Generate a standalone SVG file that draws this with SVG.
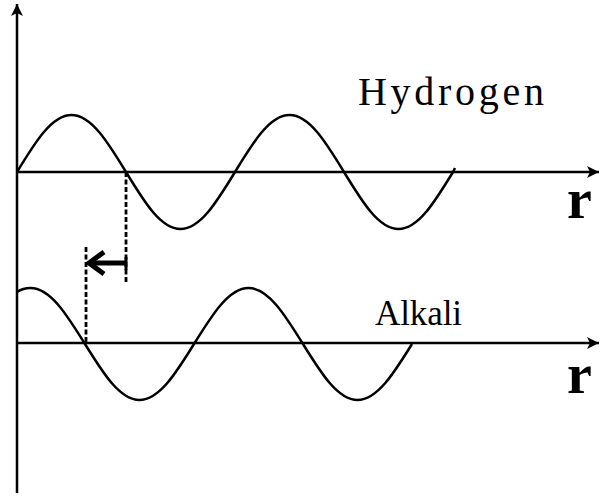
<svg xmlns="http://www.w3.org/2000/svg" width="600" height="497" viewBox="0 0 600 497">
<style>
.axis{stroke:#000;stroke-width:2.5;fill:none}
.wave{stroke:#000;stroke-width:2.5;fill:none;stroke-linejoin:round}
.dash{stroke:#000;stroke-width:2.8;stroke-dasharray:5 2.5;fill:none}
.lbl{font-family:"Liberation Serif","Times New Roman",serif;fill:#000}
</style>
<defs>
<marker id="ah" markerUnits="userSpaceOnUse" markerWidth="14" markerHeight="14" refX="12" refY="7" orient="auto">
<path d="M0,1 L12,7 L0,13 L3,7 Z" fill="#000"/>
</marker>
</defs>
<rect width="600" height="497" fill="#fff"/>
<g id="connectors">
<line class="axis" x1="17" y1="493" x2="17" y2="4" marker-end="url(#ah)"/>
<line class="axis" x1="17" y1="172" x2="599" y2="172" marker-end="url(#ah)"/>
<line class="axis" x1="17" y1="343" x2="599" y2="343" marker-end="url(#ah)"/>
<line class="dash" x1="126" y1="172" x2="126" y2="284"/>
<line class="dash" x1="86" y1="247" x2="86" y2="343"/>
<line x1="126" y1="257" x2="126" y2="270" stroke="#000" stroke-width="3"/>
<line x1="126" y1="263" x2="92" y2="263" stroke="#000" stroke-width="5"/>
<polyline points="104,252 89,263 104,274" fill="none" stroke="#000" stroke-width="5" stroke-linejoin="miter"/>
</g>
<g id="hydrogen-wave">
<path class="wave" d="M17,172 c18.22,-29.93 34.8,-57 54.5,-57 s36.28,27.07 54.5,57 s34.8,57 54.5,57 s36.28,-27.07 54.5,-57 s34.8,-57 54.5,-57 s36.28,27.07 54.5,57 s34.8,57 54.5,57 s36.28,-27.07 54.5,-57 l2,-4"/>
</g>
<g id="alkali-wave">
<path class="wave" d="M17,292 Q23,288 30.5,288 c19.7,0 36.28,26.6 54.5,56 s34.8,56 54.5,56 s36.28,-26.6 54.5,-56 s34.8,-56 54.5,-56 s36.28,26.6 54.5,56 s34.8,56 54.5,56 s36.28,-26.6 54.5,-56"/>
</g>
<g id="label-hydrogen">
<text class="lbl" x="358" y="105" font-size="40" textLength="186" lengthAdjust="spacing">Hydrogen</text>
</g>
<g id="label-alkali">
<text class="lbl" x="375" y="325" font-size="35" textLength="87" lengthAdjust="spacing">Alkali</text>
</g>
<g id="label-r1">
<text class="lbl" x="567" y="218" font-size="56" font-weight="bold">r</text>
</g>
<g id="label-r2">
<text class="lbl" x="567" y="393" font-size="56" font-weight="bold">r</text>
</g>
</svg>
